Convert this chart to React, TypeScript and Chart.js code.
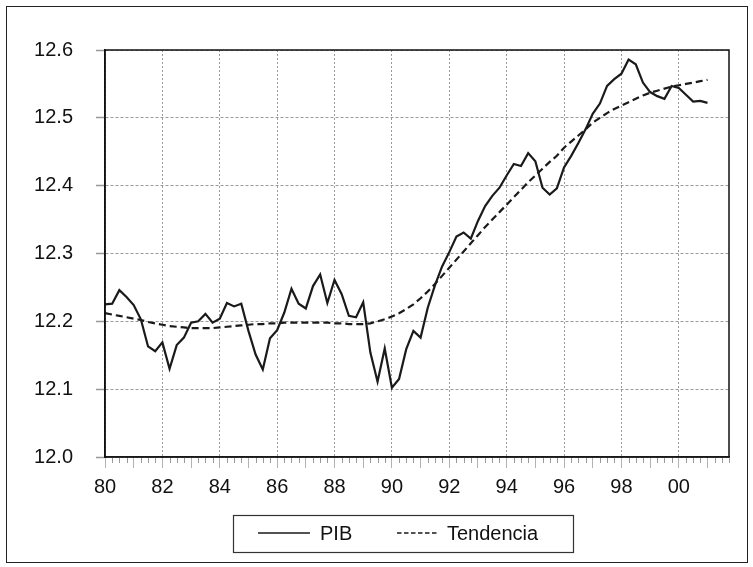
import React, { useEffect, useRef } from 'react';
import { Chart, registerables } from 'chart.js';

Chart.register(...registerables);

const START_YEAR = 1980;
const END_AXIS = 2001.75;
const seriesLabels = ['PIB', 'Tendencia'];

const pib = [
  12.225, 12.226, 12.246, 12.236, 12.224, 12.203, 12.163, 12.156, 12.169, 12.130,
  12.165, 12.176, 12.198, 12.200, 12.211, 12.198, 12.204, 12.227, 12.222, 12.226,
  12.186, 12.151, 12.129, 12.175, 12.187, 12.213, 12.248, 12.226, 12.219, 12.252,
  12.269, 12.227, 12.261, 12.240, 12.208, 12.206, 12.228, 12.154, 12.111, 12.160,
  12.102, 12.115, 12.159, 12.186, 12.176, 12.220, 12.253, 12.281, 12.302, 12.325,
  12.331, 12.322, 12.348, 12.370, 12.385, 12.397, 12.415, 12.432, 12.429, 12.448,
  12.436, 12.397, 12.387, 12.396, 12.427, 12.444, 12.463, 12.483, 12.506, 12.521,
  12.547, 12.557, 12.565, 12.586, 12.579, 12.552, 12.538, 12.532, 12.528, 12.547,
  12.544, 12.534, 12.524, 12.525, 12.522,
];

const tendencia = [
  12.212, 12.210, 12.208, 12.206, 12.204, 12.202, 12.199, 12.197, 12.195, 12.193,
  12.192, 12.191, 12.190, 12.190, 12.190, 12.190, 12.191, 12.192, 12.193, 12.194,
  12.195, 12.196, 12.196, 12.197, 12.197, 12.198, 12.198, 12.198, 12.198, 12.198,
  12.198, 12.198, 12.197, 12.197, 12.196, 12.196, 12.196, 12.197, 12.200, 12.203,
  12.207, 12.212, 12.218, 12.225, 12.234, 12.244, 12.255, 12.267, 12.279, 12.291,
  12.303, 12.315, 12.327, 12.339, 12.350, 12.361, 12.372, 12.383, 12.394, 12.405,
  12.415, 12.425, 12.435, 12.444, 12.456, 12.465, 12.474, 12.483, 12.493, 12.500,
  12.507, 12.513, 12.518, 12.523, 12.528, 12.533, 12.537, 12.540, 12.543, 12.546,
  12.548, 12.550, 12.552, 12.554, 12.556,
];

const Y_MIN = 12.0;
const Y_MAX = 12.6;
const Y_STEP = 0.1;

const toPoints = (arr: number[]) => arr.map((v, i) => ({ x: START_YEAR + i / 4, y: v }));

const FONT = '"Liberation Sans", Arial, Helvetica, sans-serif';

const framePlugin = {
  id: 'frames',
  afterDraw(chart: any) {
    const { ctx, chartArea, scales } = chart;
    const xs = scales.x;
    ctx.save();
    ctx.setLineDash([]);
    // quarter minor ticks
    ctx.strokeStyle = '#999';
    ctx.lineWidth = 1;
    for (let q = START_YEAR * 4; q <= END_AXIS * 4; q++) {
      if (q % 4 === 0) continue;
      const px = Math.round(xs.getPixelForValue(q / 4)) + 0.5;
      ctx.beginPath();
      ctx.moveTo(px, chartArea.bottom + 1);
      ctx.lineTo(px, chartArea.bottom + 6);
      ctx.stroke();
    }
    // plot frame
    ctx.strokeStyle = '#111';
    ctx.lineWidth = 1.5;
    ctx.strokeRect(chartArea.left, chartArea.top, chartArea.right - chartArea.left, chartArea.bottom - chartArea.top);
    // outer border
    ctx.strokeStyle = '#222';
    ctx.lineWidth = 1;
    ctx.strokeRect(6.5, 6.5, 741, 556);
    // legend
    const ds = chart.data.datasets;
    ctx.strokeStyle = '#333';
    ctx.lineWidth = 1.2;
    ctx.strokeRect(233.5, 515.5, 340, 37);
    const ly = 533;
    ctx.lineWidth = 1.5;
    ctx.strokeStyle = ds[0].borderColor;
    ctx.beginPath();
    ctx.moveTo(258, ly);
    ctx.lineTo(310, ly);
    ctx.stroke();
    ctx.strokeStyle = ds[1].borderColor;
    ctx.setLineDash([4.5, 2.5]);
    ctx.beginPath();
    ctx.moveTo(397, ly);
    ctx.lineTo(438, ly);
    ctx.stroke();
    ctx.setLineDash([]);
    ctx.fillStyle = '#111';
    ctx.font = `20px ${FONT}`;
    ctx.textBaseline = 'alphabetic';
    ctx.textAlign = 'left';
    ctx.fillText(ds[0].label, 320, 540);
    ctx.fillText(ds[1].label, 447, 540);
    ctx.restore();
  },
};

export default function App() {
  const ref = useRef<HTMLCanvasElement | null>(null);

  useEffect(() => {
    document.body.style.margin = '0';
    const canvas = ref.current;
    if (!canvas) return;
    const chart = new Chart(canvas, {
      type: 'line',
      data: {
        datasets: [
          {
            label: seriesLabels[0],
            data: toPoints(pib),
            borderColor: '#1a1a1a',
            borderWidth: 2.2,
            pointRadius: 0,
            tension: 0,
            fill: false,
          },
          {
            label: seriesLabels[1],
            data: toPoints(tendencia),
            borderColor: '#1a1a1a',
            borderWidth: 2.2,
            borderDash: [7, 4],
            pointRadius: 0,
            tension: 0,
            fill: false,
          },
        ],
      },
      options: {
        animation: false,
        responsive: false,
        devicePixelRatio: 1,
        layout: { padding: { left: 0, top: 50, right: 24, bottom: 0 } },
        plugins: {
          legend: { display: false },
          tooltip: { enabled: false },
          title: { display: false },
        },
        scales: {
          x: {
            type: 'linear',
            min: START_YEAR,
            max: END_AXIS,
            afterFit: (s: any) => { s.height = 110; },
            border: { display: true, color: '#333', width: 1.5, dash: [2, 2] },
            grid: {
              color: (c: any) => (c.tick && Math.round(c.tick.value) % 2 === 0 ? '#9a9a9a' : 'rgba(0,0,0,0)'),
              lineWidth: 1,
              tickLength: 11,
              tickColor: '#999',
              tickBorderDash: [1, 0],
              tickWidth: 1,
            },
            ticks: {
              stepSize: 1,
              autoSkip: false,
              includeBounds: false,
              maxRotation: 0,
              padding: 7,
              color: '#111',
              font: { family: FONT, size: 20 },
              callback: (v: any) => {
                const n = Math.round(Number(v));
                return n % 2 === 0 ? String(n % 100).padStart(2, '0') : '';
              },
            },
          },
          y: {
            type: 'linear',
            min: Y_MIN,
            max: Y_MAX,
            afterFit: (s: any) => { s.width = 105; },
            border: { display: true, color: '#111', width: 1.5, dash: [3, 2] },
            grid: {
              color: '#9a9a9a',
              lineWidth: 1,
              tickLength: 9,
              tickColor: '#999',
              tickBorderDash: [1, 0],
              tickWidth: 1.5,
            },
            ticks: {
              stepSize: Y_STEP,
              padding: 23,
              color: '#111',
              font: { family: FONT, size: 20 },
              callback: (v: any) => Number(v).toFixed(1),
            },
          },
        },
      },
      plugins: [framePlugin],
    } as any);
    return () => chart.destroy();
  }, []);

  return <canvas ref={ref} width={753} height={567} style={{ display: 'block' }} />;
}
